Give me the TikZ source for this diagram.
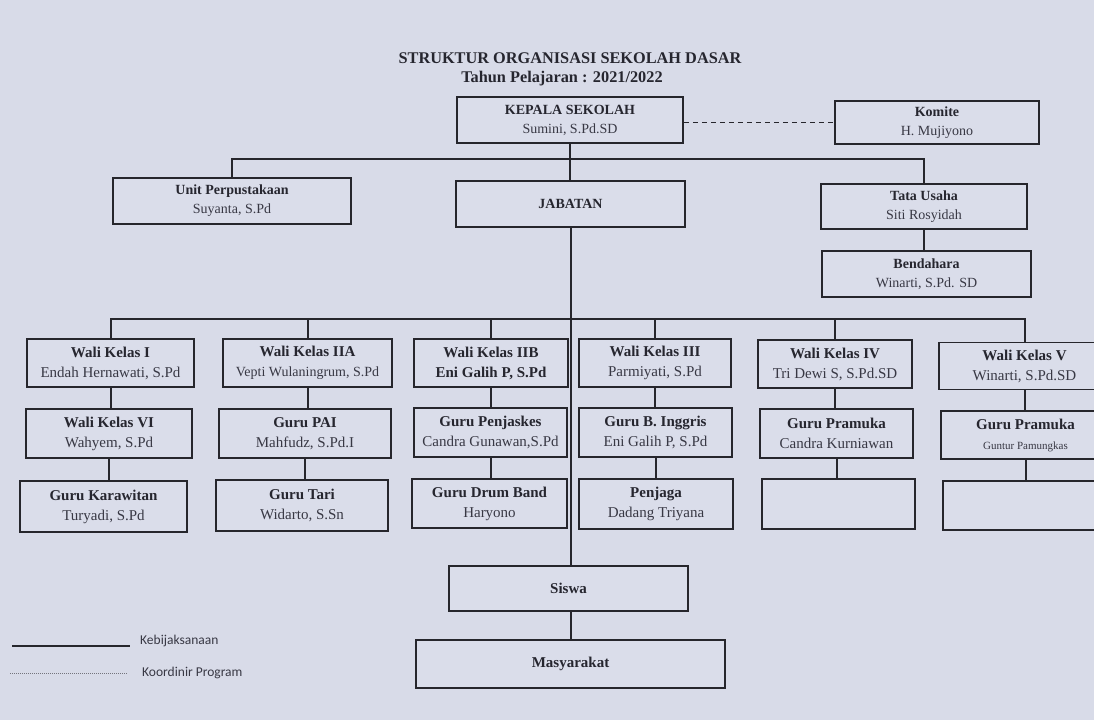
\documentclass[tikz,border=0pt]{standalone}
\usepackage{fontspec}
\setmainfont{Liberation Serif}
\newfontfamily\legendfont{Carlito}
\definecolor{bgc}{HTML}{D8DBE8}
\definecolor{boxfill}{HTML}{DADDEA}
\definecolor{linec}{HTML}{26262C}
\definecolor{textc}{HTML}{26262F}
\definecolor{namec}{HTML}{383844}
\tikzset{
  box/.style={draw=linec, line width=1.5pt, fill=boxfill, inner sep=0pt, align=center,
    text=textc, font=\fontsize{14}{19}\selectfont},
  lowbox/.style={box, font=\fontsize{15}{20}\selectfont},
  conn/.style={draw=linec, line width=2pt},
  dashconn/.style={draw=linec, line width=1.3pt, dash pattern=on 5pt off 4pt},
  titletext/.style={text=textc, font=\fontsize{16.3}{20}\selectfont\bfseries, inner sep=0pt},
  legendtext/.style={text=namec, font=\legendfont\fontsize{13.5}{16}\selectfont, anchor=west, inner sep=0pt}
}
\newcommand{\nm}[1]{\textcolor{namec}{#1}}
\begin{document}
\begin{tikzpicture}[x=1pt,y=-1pt]
\useasboundingbox (0,0) rectangle (1094,720);
\clip (0,0) rectangle (1094,720);
\fill[bgc] (0,0) rectangle (1094,720);

% title
\node[titletext] (t1) at (570,58) {STRUKTUR ORGANISASI SEKOLAH DASAR};
\node[titletext] (t2) at (562,79) {Tahun Pelajaran : 2021/2022};

% top level
\node[box, minimum width=226, minimum height=46] (kepala) at (570,120) {\textbf{KEPALA SEKOLAH}\\\nm{Sumini, S.Pd.SD}};
\node[box, minimum width=204, minimum height=43] (komite) at (937,122.5) {\textbf{Komite}\\\nm{H. Mujiyono}};
\node[box, minimum width=238, minimum height=46] (unit) at (232,201) {\textbf{Unit Perpustakaan}\\\nm{Suyanta, S.Pd}};
\node[box, minimum width=229, minimum height=46] (jabatan) at (570.5,204) {\textbf{JABATAN}};
\node[box, minimum width=206, minimum height=45] (tata) at (924,206.5) {\textbf{Tata Usaha}\\\nm{Siti Rosyidah}};
\node[box, minimum width=209, minimum height=46] (bendahara) at (926.5,274) {\textbf{Bendahara}\\\nm{Winarti, S.Pd. SD}};

% row 1
\node[lowbox, minimum width=167, minimum height=48] (wk1) at (110.5,363) {\textbf{Wali Kelas I}\\\nm{Endah Hernawati, S.Pd}};
\node[lowbox, minimum width=169, minimum height=48] (wk2a) at (307.5,363) {\textbf{Wali Kelas IIA}\\\nm{\fontsize{14}{20}\selectfont Vepti Wulaningrum, S.Pd}};
\node[lowbox, minimum width=154, minimum height=48] (wk2b) at (491,363) {\textbf{Wali Kelas IIB}\\\textbf{Eni Galih P, S.Pd}};
\node[lowbox, minimum width=152, minimum height=48] (wk3) at (655,363) {\textbf{Wali Kelas III}\\\nm{Parmiyati, S.Pd}};
\node[lowbox, minimum width=154, minimum height=48] (wk4) at (835,364) {\textbf{Wali Kelas IV}\\\nm{Tri Dewi S, S.Pd.SD}};
\node[lowbox, minimum width=171, minimum height=47] (wk5) at (1024.5,366) {\textbf{Wali Kelas V}\\\nm{Winarti, S.Pd.SD}};

% row 2
\node[lowbox, minimum width=166, minimum height=49] (wk6) at (109,433.5) {\textbf{Wali Kelas VI}\\\nm{Wahyem, S.Pd}};
\node[lowbox, minimum width=172, minimum height=49] (pai) at (305,433.5) {\textbf{Guru PAI}\\\nm{Mahfudz, S.Pd.I}};
\node[lowbox, minimum width=153, minimum height=49] (penjas) at (490.5,432.5) {\textbf{Guru Penjaskes}\\\nm{Candra Gunawan,S.Pd}};
\node[lowbox, minimum width=153, minimum height=49] (inggris) at (655.5,432.5) {\textbf{Guru B. Inggris}\\\nm{Eni Galih P, S.Pd}};
\node[lowbox, minimum width=153, minimum height=49] (pramuka4) at (836.5,433.5) {\textbf{Guru Pramuka}\\\nm{Candra Kurniawan}};
\node[lowbox, minimum width=169, minimum height=48] (pramuka5) at (1025.5,435) {\textbf{Guru Pramuka}\\\nm{\fontsize{11}{20}\selectfont Guntur Pamungkas}};

% row 3
\node[lowbox, minimum width=167, minimum height=51] (karawitan) at (103.5,506.5) {\textbf{Guru Karawitan}\\\nm{Turyadi, S.Pd}};
\node[lowbox, minimum width=172, minimum height=51] (tari) at (302,505.5) {\textbf{Guru Tari}\\\nm{Widarto, S.Sn}};
\node[lowbox, minimum width=155, minimum height=49] (drum) at (489.5,503.5) {\textbf{Guru Drum Band}\\\nm{Haryono}};
\node[lowbox, minimum width=154, minimum height=50] (penjaga) at (656,504) {\textbf{Penjaga}\\\nm{Dadang Triyana}};
\node[lowbox, minimum width=153, minimum height=50] (empty4) at (838.5,504) {};
\node[lowbox, minimum width=167, minimum height=49] (empty5) at (1026.5,505.5) {};

% bottom
\node[lowbox, minimum width=239, minimum height=45] (siswa) at (568.5,588.5) {\textbf{Siswa}};
\node[lowbox, minimum width=309, minimum height=48] (masy) at (570.5,664) {\textbf{Masyarakat}};

% bus coordinates
\coordinate (busA) at (570,159);
\coordinate (busB) at (573,319);

% connectors
\draw[dashconn] (kepala.east |- komite.west) -- (komite.west);
\draw[conn] (kepala.south) -- (kepala.south |- jabatan.north);
\draw[conn] (unit.north) |- (busA) -| (tata.north);
\draw[conn] (tata.south) -- (tata.south |- bendahara.north);
\draw[conn] (jabatan.south) -- (jabatan.south |- siswa.north);
\draw[conn] (wk1.north) |- (busB) -| (wk5.north);
\draw[conn] (wk2a.north) -- (wk2a.north |- busB);
\draw[conn] (wk2b.north) -- (wk2b.north |- busB);
\draw[conn] (wk3.north) -- (wk3.north |- busB);
\draw[conn] (wk4.north) -- (wk4.north |- busB);
\draw[conn] (wk1.south) -- (wk1.south |- wk6.north);
\draw[conn] (wk6.south) -- (wk6.south |- karawitan.north);
\draw[conn] (wk2a.south) -- (wk2a.south |- pai.north);
\draw[conn] (pai.south) -- (pai.south |- tari.north);
\draw[conn] (wk2b.south) -- (wk2b.south |- penjas.north);
\draw[conn] (penjas.south) -- (penjas.south |- drum.north);
\draw[conn] (wk3.south) -- (wk3.south |- inggris.north);
\draw[conn] (inggris.south) -- (inggris.south |- penjaga.north);
\draw[conn] (wk4.south) -- (wk4.south |- pramuka4.north);
\draw[conn] (pramuka4.south) -- (pramuka4.south |- empty4.north);
\draw[conn] (wk5.south) -- (wk5.south |- pramuka5.north);
\draw[conn] (pramuka5.south) -- (pramuka5.south |- empty5.north);
\draw[conn] (siswa.south -| jabatan.south) -- (masy.north -| jabatan.south);

% legend
\coordinate (ls1) at (12,646);
\coordinate (ls2) at (130,646);
\coordinate (ld1) at (10,673);
\coordinate (ld2) at (128,673);
\draw[draw=linec, line width=1.6pt] (ls1) -- (ls2);
\draw[draw=namec!70, line width=1pt, dash pattern=on 1pt off 1pt] (ld1) -- (ld2);
\node[legendtext] (lk) at (140,641) {Kebijaksanaan};
\node[legendtext] (lp) at (142,673) {Koordinir Program};
\end{tikzpicture}
\end{document}
